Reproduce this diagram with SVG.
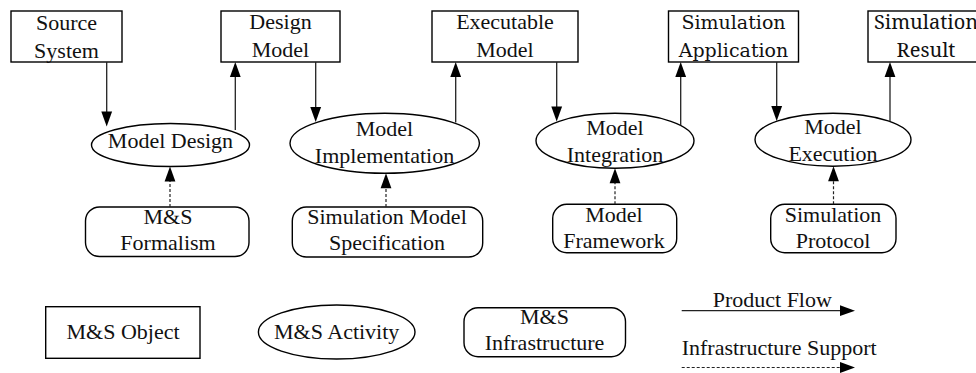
<svg xmlns="http://www.w3.org/2000/svg" width="976" height="373" viewBox="0 0 976 373">
  <defs>
    <style>
      .obj { fill: #fff; stroke: #000; stroke-width: 1.4; }
      .flow { fill: none; stroke: #222; stroke-width: 1.3; }
      .support { fill: none; stroke: #222; stroke-width: 1.2; stroke-dasharray: 3 2; }
      .tip { fill: #000; stroke: none; }
    </style>
  </defs>

  <rect width="976" height="373" fill="#fff"/>

  <g id="source-system">
    <rect class="obj" x="11" y="11" width="111" height="51"/>
    <text x="66.5" y="29.5" font-family="Liberation Serif" font-size="22" text-anchor="middle" fill="#111">Source</text>
    <text x="66.5" y="57.5" font-family="Liberation Serif" font-size="22" text-anchor="middle" fill="#111">System</text>
  </g>
  <g id="design-model">
    <rect class="obj" x="221" y="11" width="119" height="51"/>
    <text x="280.5" y="29" style="font-family:'Liberation Serif',serif !important; font-size:22px" text-anchor="middle" fill="#111">Design</text>
    <text x="280.5" y="57" style="font-family:'Liberation Serif',serif !important; font-size:22px" text-anchor="middle" fill="#111">Model</text>
  </g>
  <g id="executable-model">
    <rect class="obj" x="432" y="11" width="146" height="51"/>
    <text x="505" y="29" font-family="Times New Roman" font-size="22" text-anchor="middle" fill="#111">Executable</text>
    <text x="505" y="57" font-family="Times New Roman" font-size="22" text-anchor="middle" fill="#111">Model</text>
  </g>
  <g id="simulation-application">
    <rect class="obj" x="668.5" y="11" width="130" height="51"/>
    <text x="733.5" y="29" font-family="DejaVu Serif" font-size="19" text-anchor="middle" fill="#111">Simulation</text>
    <text x="733.5" y="57" font-family="DejaVu Serif" font-size="19" text-anchor="middle" fill="#111">Application</text>
  </g>
  <g id="simulation-result">
    <rect class="obj" x="868" y="11" width="116" height="51"/>
    <text x="926" y="29" font-family="Noto Serif" font-size="20" text-anchor="middle" fill="#111">Simulation</text>
    <text x="926" y="57" font-family="Noto Serif" font-size="20" text-anchor="middle" fill="#111">Result</text>
  </g>

  <g id="model-design">
    <ellipse class="obj" cx="170.5" cy="145" rx="79" ry="21.5"/>
    <text x="170.5" y="148" font-family="serif" font-size="22" text-anchor="middle" fill="#111">Model Design</text>
  </g>
  <g id="model-implementation">
    <ellipse class="obj" cx="384.7" cy="143.3" rx="94.7" ry="30"/>
    <text x="384.5" y="136" style="font-family:'Liberation Serif'; font-size:22px" text-anchor="middle" fill="#111">Model</text>
    <text x="384.5" y="163" style="font-family:'Liberation Serif'; font-size:22px" text-anchor="middle" fill="#111">Implementation</text>
  </g>
  <g id="model-integration">
    <ellipse class="obj" cx="615" cy="140.8" rx="79" ry="27.5"/>
    <text x="615" y="135" font-family="Liberation Serif" font-size="22" text-anchor="middle" fill="#111">Model</text>
    <text x="615" y="162" font-family="Liberation Serif" font-size="22" text-anchor="middle" fill="#111">Integration</text>
  </g>
  <g id="model-execution">
    <ellipse class="obj" cx="833" cy="139.7" rx="78" ry="26.5"/>
    <text x="833" y="133.5" font-family="Liberation Serif" font-size="22" text-anchor="middle" fill="#111">Model</text>
    <text x="833" y="160.5" font-family="Liberation Serif" font-size="22" text-anchor="middle" fill="#111">Execution</text>
  </g>

  <g id="ms-formalism">
    <rect class="obj" x="85.5" y="207" width="163.5" height="49.5" rx="14" ry="14"/>
    <text x="168" y="223.5" font-family="Liberation Serif" font-size="22" text-anchor="middle" fill="#111">M&amp;S</text>
    <text x="168" y="250" font-family="Liberation Serif" font-size="22" text-anchor="middle" fill="#111">Formalism</text>
  </g>
  <g id="simulation-model-specification">
    <rect class="obj" x="292.3" y="207" width="190.4" height="50" rx="14" ry="14"/>
    <text x="387" y="223.5" font-family="Liberation Serif" font-size="22" text-anchor="middle" fill="#111">Simulation Model</text>
    <text x="387" y="250" font-family="Liberation Serif" font-size="22" text-anchor="middle" fill="#111">Specification</text>
  </g>
  <g id="model-framework">
    <rect class="obj" x="552.7" y="204.3" width="124" height="48.4" rx="14" ry="14"/>
    <text x="614" y="221.5" font-family="Liberation Serif" font-size="22" text-anchor="middle" fill="#111">Model</text>
    <text x="614" y="248" font-family="Liberation Serif" font-size="22" text-anchor="middle" fill="#111">Framework</text>
  </g>
  <g id="simulation-protocol">
    <rect class="obj" x="770.7" y="204.3" width="125.3" height="48.4" rx="14" ry="14"/>
    <text x="833" y="221.5" font-family="Liberation Serif" font-size="22" text-anchor="middle" fill="#111">Simulation</text>
    <text x="833" y="248" font-family="Liberation Serif" font-size="22" text-anchor="middle" fill="#111">Protocol</text>
  </g>

  <g id="legend-object">
    <rect class="obj" x="45.7" y="306.7" width="154.3" height="51.6"/>
    <text x="123" y="338.5" font-family="Liberation Serif" font-size="22" text-anchor="middle" fill="#111">M&amp;S Object</text>
  </g>
  <g id="legend-activity">
    <ellipse class="obj" cx="336.7" cy="332" rx="78.3" ry="27"/>
    <text x="336.7" y="338.5" font-family="Liberation Serif" font-size="22" text-anchor="middle" fill="#111">M&amp;S Activity</text>
  </g>
  <g id="legend-infrastructure">
    <rect class="obj" x="464" y="307.7" width="161.5" height="49" rx="14" ry="14"/>
    <text x="544.5" y="323.5" font-family="Liberation Serif" font-size="22" text-anchor="middle" fill="#111">M&amp;S</text>
    <text x="544.5" y="350" font-family="Liberation Serif" font-size="22" text-anchor="middle" fill="#111">Infrastructure</text>
  </g>
  <g id="legend-product-flow">
    <text x="712.7" y="307" font-family="Liberation Serif" font-size="22" fill="#111">Product Flow</text>
  </g>
  <g id="legend-infrastructure-support">
    <text x="681.7" y="355" font-family="Liberation Serif" font-size="22" fill="#111">Infrastructure Support</text>
  </g>

  <g id="connectors">
    <line class="flow" x1="106.7" y1="62" x2="106.7" y2="112"/>
    <path class="tip" d="M101.3,111.5 L106.7,126.5 L112.1,111.5 Z"/>
    <line class="flow" x1="235.3" y1="130" x2="235.3" y2="76"/>
    <path class="tip" d="M229.9,77 L235.3,62 L240.7,77 Z"/>
    <line class="flow" x1="315.7" y1="62" x2="315.7" y2="107.5"/>
    <path class="tip" d="M310.3,107 L315.7,122 L321.1,107 Z"/>
    <line class="flow" x1="455.7" y1="122.5" x2="455.7" y2="76"/>
    <path class="tip" d="M450.3,77 L455.7,62 L461.1,77 Z"/>
    <line class="flow" x1="556.7" y1="62" x2="556.7" y2="107"/>
    <path class="tip" d="M551.3,106.5 L556.7,121.5 L562.1,106.5 Z"/>
    <line class="flow" x1="680.7" y1="125.5" x2="680.7" y2="76"/>
    <path class="tip" d="M675.3,77 L680.7,62 L686.1,77 Z"/>
    <line class="flow" x1="776.7" y1="62" x2="776.7" y2="106.5"/>
    <path class="tip" d="M771.3,106 L776.7,121 L782.1,106 Z"/>
    <line class="flow" x1="890" y1="121.5" x2="890" y2="76"/>
    <path class="tip" d="M884.6,77 L890,62 L895.4,77 Z"/>

    <line class="support" x1="170" y1="207" x2="170" y2="181"/>
    <path class="tip" d="M164.6,181.5 L170,166.5 L175.4,181.5 Z"/>
    <line class="support" x1="386" y1="207" x2="386" y2="188"/>
    <path class="tip" d="M380.6,188.3 L386,173.3 L391.4,188.3 Z"/>
    <line class="support" x1="615" y1="204.3" x2="615" y2="183"/>
    <path class="tip" d="M609.6,183.3 L615,168.3 L620.4,183.3 Z"/>
    <line class="support" x1="833.5" y1="204.3" x2="833.5" y2="181"/>
    <path class="tip" d="M828.1,181.2 L833.5,166.2 L838.9,181.2 Z"/>

    <line class="flow" x1="681.7" y1="310.7" x2="841" y2="310.7"/>
    <path class="tip" d="M840,305.3 L855,310.7 L840,316.1 Z"/>
    <line class="support" x1="681.7" y1="367.5" x2="841" y2="367.5"/>
    <path class="tip" d="M840,362.1 L855,367.5 L840,372.9 Z"/>
  </g>
</svg>
